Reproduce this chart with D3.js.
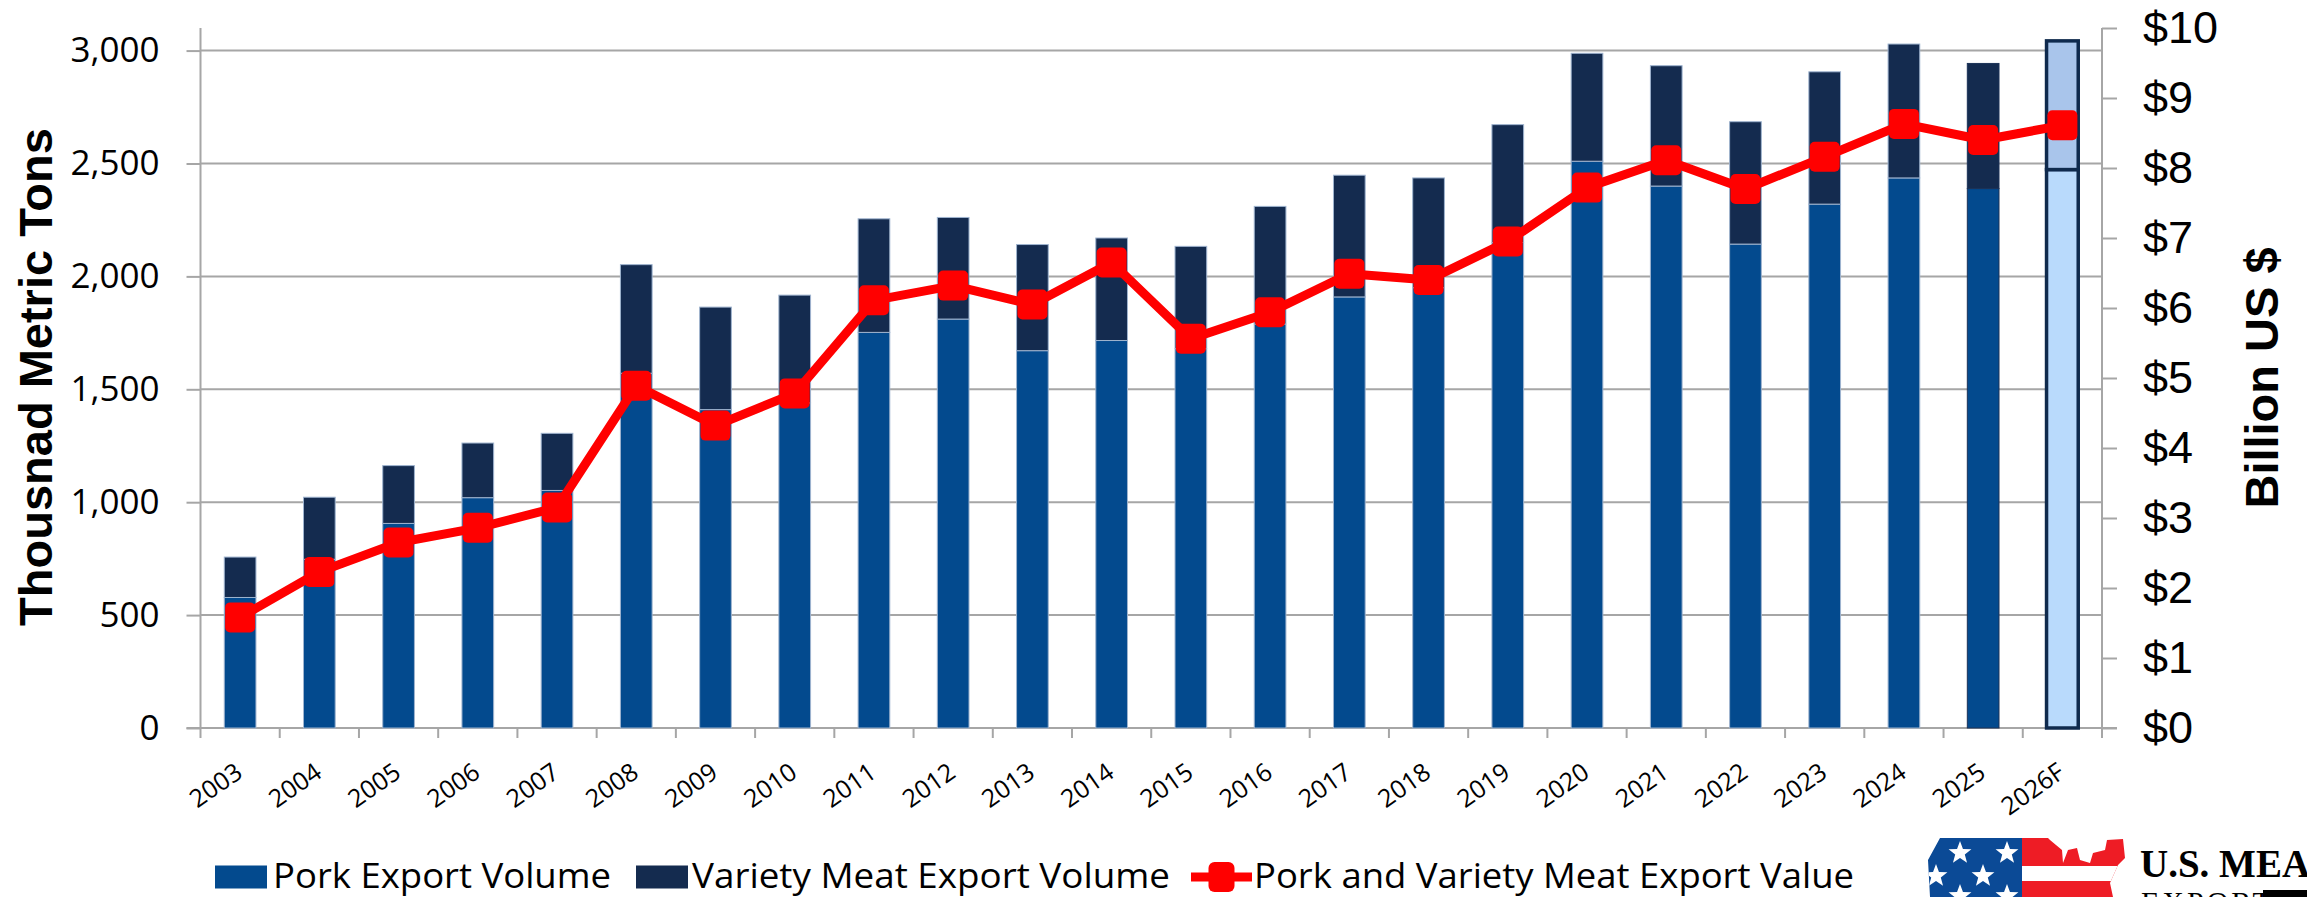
<!DOCTYPE html>
<html>
<head>
<meta charset="utf-8">
<script src="https://cdn.jsdelivr.net/npm/d3@7/dist/d3.min.js"></script>
<style>
  html, body { margin: 0; padding: 0; background: #ffffff; overflow: hidden; }
  svg { display: block; }
</style>
</head>
<body>
<svg id="chart" width="2307" height="897"></svg>
<script>
// ---------------- DATA ----------------
const years = ["2003","2004","2005","2006","2007","2008","2009","2010","2011","2012","2013","2014","2015","2016","2017","2018","2019","2020","2021","2022","2023","2024","2025","2026F"];
const porkVolume = [578, 747, 906, 1020, 1052, 1571, 1410, 1440, 1752, 1811, 1671, 1716, 1680, 1789, 1909, 1950, 2150, 2510, 2400, 2143, 2320, 2436, 2389, 2473];
const varietyVolume = [179, 275, 256, 242, 253, 481, 454, 477, 503, 450, 470, 454, 453, 521, 539, 486, 522, 478, 533, 542, 586, 593, 554, 570];
const exportValue = [1.58, 2.23, 2.65, 2.86, 3.15, 4.89, 4.32, 4.78, 6.11, 6.32, 6.05, 6.65, 5.56, 5.94, 6.49, 6.40, 6.95, 7.72, 8.11, 7.70, 8.16, 8.63, 8.40, 8.61];
const leftTicks = [0, 500, 1000, 1500, 2000, 2500, 3000];
const rightTicks = [0, 1, 2, 3, 4, 5, 6, 7, 8, 9, 10];
const seriesNames = ["Pork Export Volume", "Variety Meat Export Volume", "Pork and Variety Meat Export Value"];
const leftTitle = "Thousnad Metric Tons";
const rightTitle = "Billion US $";

// ---------------- LAYOUT ----------------
const svg = d3.select("#chart");
const plotLeft = 200.5, plotRight = 2102, plotTop = 28, plotBottom = 728;
const colPork = "#034a8e", colVar = "#142b4f", colRed = "#ff0000";
const gridCol = "#a6a6a6";

const x = d3.scaleBand().domain(years).range([plotLeft, plotRight]).paddingInner(0.6).paddingOuter(0.3);
const yL = d3.scaleLinear().domain([0, 3100]).range([plotBottom, plotTop]);
const yR = d3.scaleLinear().domain([0, 10]).range([plotBottom, plotTop]);
const step = x.step();

svg.append("rect").attr("width", 2307).attr("height", 897).attr("fill", "#fff");

// gridlines
svg.append("g").selectAll("line").data(leftTicks.filter(d => d > 0)).join("line")
  .attr("x1", plotLeft).attr("x2", plotRight)
  .attr("y1", d => yL(d)).attr("y2", d => yL(d))
  .attr("stroke", gridCol).attr("stroke-width", 2);

// left axis
const gL = svg.append("g").attr("transform", `translate(${plotLeft},0)`)
  .call(d3.axisLeft(yL).tickValues(leftTicks).tickSize(14).tickPadding(27).tickFormat(d3.format(",")));
gL.select(".domain").attr("d", `M0,${plotTop}V${plotBottom}`).attr("stroke", gridCol).attr("stroke-width", 2);
gL.selectAll(".tick line").attr("stroke", gridCol).attr("stroke-width", 2);
gL.selectAll(".tick text").attr("font-family", "'Open Sans', sans-serif").attr("font-size", 35).attr("fill", "#000");

// right axis
const gR = svg.append("g").attr("transform", `translate(${plotRight},0)`)
  .call(d3.axisRight(yR).tickValues(rightTicks).tickSize(15).tickPadding(26).tickFormat(d => "$" + d));
gR.select(".domain").attr("d", `M0,${plotTop}V${plotBottom}`).attr("stroke", gridCol).attr("stroke-width", 2);
gR.selectAll(".tick line").attr("stroke", gridCol).attr("stroke-width", 2);
gR.selectAll(".tick text").attr("font-family", "'Liberation Sans', Arial, sans-serif").attr("font-size", 45).attr("fill", "#000");

// bottom axis line + ticks at category boundaries
const boundaries = years.map(d => x(d) - (step - x.bandwidth()) / 2).concat([plotRight]);
svg.append("line").attr("x1", plotLeft - 14).attr("x2", plotRight + 15)
  .attr("y1", plotBottom).attr("y2", plotBottom).attr("stroke", gridCol).attr("stroke-width", 2);
svg.append("g").selectAll("line").data(boundaries).join("line")
  .attr("x1", d => d).attr("x2", d => d).attr("y1", plotBottom).attr("y2", plotBottom + 10)
  .attr("stroke", gridCol).attr("stroke-width", 2);

// x labels
svg.append("g").selectAll("text").data(years).join("text")
  .attr("transform", d => `translate(${x(d) + x.bandwidth() / 2 + 4},${plotBottom + 48}) rotate(-35)`)
  .attr("text-anchor", "end")
  .attr("font-family", "'Open Sans', sans-serif").attr("font-size", 25).attr("fill", "#000")
  .text(d => d);

// stacked bars
const rows = years.map((y, i) => ({ year: y, pork: porkVolume[i], variety: varietyVolume[i] }));
const stack = d3.stack().keys(["pork", "variety"])(rows);
const isF = d => d.data.year.endsWith("F");
const fills = { pork: [colPork, "#b9dafc"], variety: [colVar, "#a9c5eb"] };
stack.forEach(layer => {
  svg.append("g").selectAll("rect").data(layer).join("rect")
    .attr("x", d => x(d.data.year))
    .attr("width", x.bandwidth())
    .attr("y", d => yL(d[1]))
    .attr("height", d => yL(d[0]) - yL(d[1]))
    .attr("fill", d => isF(d) ? fills[layer.key][1] : fills[layer.key][0])
    .attr("stroke", d => isF(d) ? "#0f2a4d" : (d.data.year === "2025" ? "#1c3358" : "#9fb4cf"))
    .attr("stroke-width", d => isF(d) ? 3.5 : 1);
});

// value line
const line = d3.line().x((d, i) => x(years[i]) + x.bandwidth() / 2).y(d => yR(d));
svg.append("path").datum(exportValue).attr("d", line)
  .attr("fill", "none").attr("stroke", colRed).attr("stroke-width", 9).attr("stroke-linejoin", "round");
svg.append("g").selectAll("rect").data(exportValue).join("rect")
  .attr("x", (d, i) => x(years[i]) + x.bandwidth() / 2 - 15)
  .attr("y", d => yR(d) - 15)
  .attr("width", 30).attr("height", 30).attr("rx", 5)
  .attr("fill", colRed);

// axis titles
svg.append("text").attr("transform", "translate(52,377) rotate(-90)")
  .attr("text-anchor", "middle").attr("font-family", "'Liberation Sans', Arial, sans-serif")
  .attr("font-weight", "bold").attr("font-size", 47).attr("fill", "#000").text(leftTitle);
svg.append("text").attr("transform", "translate(2278,378) rotate(-90)")
  .attr("text-anchor", "middle").attr("font-family", "'Liberation Sans', Arial, sans-serif")
  .attr("font-weight", "bold").attr("font-size", 47).attr("fill", "#000").text(rightTitle);

// legend
const legY = 877;
const legItems = [
  { key: 215, text: 273, len: 338, type: "rect", color: colPork },
  { key: 636, text: 692, len: 478, type: "rect", color: colVar },
  { key: 1191, text: 1254, len: 600, type: "line", color: colRed }
];
legItems.forEach((it, i) => {
  if (it.type === "rect") {
    svg.append("rect").attr("x", it.key).attr("y", legY - 11.5).attr("width", 52).attr("height", 23).attr("fill", it.color);
  } else {
    svg.append("line").attr("x1", it.key).attr("x2", it.key + 61).attr("y1", legY).attr("y2", legY)
      .attr("stroke", it.color).attr("stroke-width", 9);
    svg.append("rect").attr("x", it.key + 30.5 - 13).attr("y", legY - 15).attr("width", 26).attr("height", 30).attr("rx", 6).attr("fill", it.color);
  }
  svg.append("text").attr("x", it.text).attr("y", legY + 11)
    .attr("font-family", "'Open Sans', sans-serif").attr("font-size", 34).attr("fill", "#000")
    .attr("textLength", it.len).attr("lengthAdjust", "spacingAndGlyphs")
    .text(seriesNames[i]);
});

// logo (decorative)
const logo = svg.append("g");
const shape = "M1940,838 L2048,838 L2050,840 L2062,850 L2063,863 L2068,850 L2077,848 L2080,860 L2090,863 L2093,853 L2105,850 L2107,840 L2123,839 L2125,858 L2118,865 L2110,883 L2113,897 L1930,897 L1928,860 Z";
logo.append("clipPath").attr("id", "usclip").append("path").attr("d", shape);
const lg = logo.append("g").attr("clip-path", "url(#usclip)");
lg.append("rect").attr("x", 1920).attr("y", 830).attr("width", 103).attr("height", 70).attr("fill", "#0b4a96");
lg.append("rect").attr("x", 2022).attr("y", 830).attr("width", 110).attr("height", 70).attr("fill", "#ee1c25");
lg.append("rect").attr("x", 2022).attr("y", 866).attr("width", 110).attr("height", 15).attr("fill", "#fff");
const starPts = (cx, cy, r) => d3.range(10).map(k => {
  const a = -Math.PI / 2 + k * Math.PI / 5, rr = k % 2 ? r * 0.42 : r;
  return [cx + rr * Math.cos(a), cy + rr * Math.sin(a)];
});
[[1960,853],[2007,853],[1936,876],[1983,876],[1960,896],[2007,896]].forEach(p => {
  lg.append("polygon").attr("points", starPts(p[0], p[1], 12).map(q => q.join(",")).join(" ")).attr("fill", "#fff");
});
svg.append("text").attr("x", 2140).attr("y", 877).attr("font-family", "'Liberation Serif', 'Times New Roman', serif")
  .attr("font-weight", "bold").attr("font-size", 39).attr("fill", "#000").text("U.S. MEAT");
svg.append("text").attr("x", 2141).attr("y", 912).attr("font-family", "'Liberation Serif', 'Times New Roman', serif")
  .attr("font-size", 30).attr("letter-spacing", 3).attr("fill", "#000").text("EXPORT");
svg.append("rect").attr("x", 2263).attr("y", 890).attr("width", 50).attr("height", 8).attr("fill", "#000");
</script>
</body>
</html>
